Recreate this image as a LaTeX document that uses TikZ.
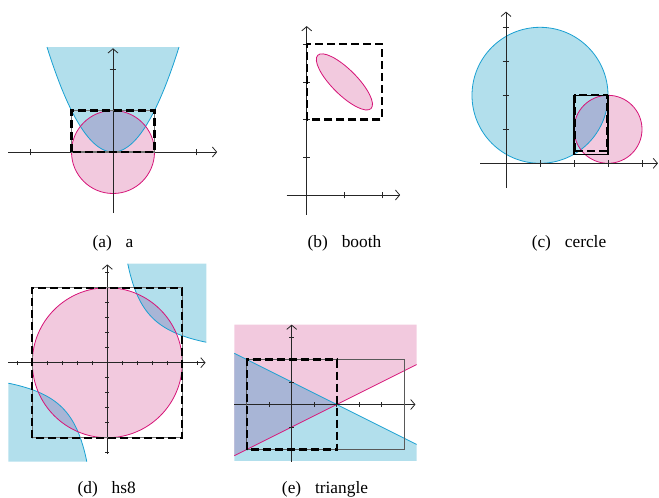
\documentclass[tikz,border=0pt]{standalone}
\usepackage{fontspec}
\setmainfont{Liberation Serif}
\usetikzlibrary{arrows.meta}
\definecolor{cyanfill}{RGB}{178,223,236}
\definecolor{pinkfill}{RGB}{242,201,222}
\definecolor{overfill}{RGB}{168,181,214}
\definecolor{cyanline}{RGB}{25,160,210}
\definecolor{pinkline}{RGB}{214,20,120}
\tikzset{
 axisline/.style={line width=0.6pt, black!85},
 axisarrow/.style={axisline, -{Straight Barb[length=3.2pt,width=7.5pt]}},
 tickmark/.style={line width=0.6pt, black!85},
 cyanborder/.style={line width=0.6pt, draw=cyanline},
 pinkborder/.style={line width=0.6pt, draw=pinkline},
 dashbox/.style={line width=1.7pt, dash pattern=on 6pt off 3pt, black},
 solidbox/.style={line width=0.8pt, black},
 underbox/.style={line width=0.8pt, black!55},
 graybox/.style={line width=0.9pt, black!65},
 captext/.style={anchor=base, font=\fontsize{13}{15}\selectfont, inner sep=0pt},
}
\begin{document}
\begin{tikzpicture}[x=0.75pt,y=-0.75pt]
\useasboundingbox (0,0) rectangle (659,497);

% ---------- (a) ----------
\begin{scope}[xshift=84.75pt, yshift=-114pt, x=31.125pt, y=31.125pt]
 \fill[cyanfill] plot[domain=-1.5906:1.5906, samples=80] (\x,{\x*\x}) -- cycle;
 \fill[pinkfill] (0,0) circle (1);
 \begin{scope}
  \clip plot[domain=-1.5906:1.5906, samples=80] (\x,{\x*\x}) -- cycle;
  \fill[overfill] (0,0) circle (1);
 \end{scope}
 \draw[cyanborder] plot[domain=-1.5906:1.5906, samples=80] (\x,{\x*\x});
 \draw[pinkborder] (0,0) circle (1);
 \coordinate (axl) at (-2.53,0);
 \coordinate (axr) at (2.51,0);
 \coordinate (ayb) at (0,-1.47);
 \coordinate (ayt) at (0,2.5);
 \draw[axisarrow] (axl) -- (axr);
 \draw[axisarrow] (ayb) -- (ayt);
 \foreach \t in {-2,2} \draw[tickmark] (\t,0) ++(0,-2.6pt) -- ++(0,5.2pt);
 \draw[tickmark] (0,2) ++(-2.6pt,0) -- ++(5.2pt,0);
 \draw[underbox] (-1,0) rectangle (1,1);
 \draw[dashbox] (-1,0) rectangle (1,1);
\end{scope}

% ---------- (b) ----------
\begin{scope}[xshift=230.025pt, yshift=-146.25pt, x=28.275pt, y=28.275pt]
 \filldraw[pinkborder, fill=pinkfill, rotate around={-45:(1,3)}] (1,3) ellipse [x radius=1, y radius=0.3333];
 \coordinate (bxl) at (-0.53,0);
 \coordinate (bxr) at (2.48,0);
 \coordinate (byb) at (0,-0.53);
 \coordinate (byt) at (0,4.48);
 \draw[axisarrow] (bxl) -- (bxr);
 \draw[axisarrow] (byb) -- (byt);
 \foreach \t in {1,2} \draw[tickmark] (\t,0) ++(0,-2.6pt) -- ++(0,5.2pt);
 \foreach \t in {1,2,3,4} \draw[tickmark] (0,\t) ++(-2.6pt,0) -- ++(5.2pt,0);
 \draw[dashbox] (0,2) rectangle (2,4);
\end{scope}

% ---------- (c) ----------
\begin{scope}[xshift=379.5pt, yshift=-122.475pt, x=25.5pt, y=25.5pt]
 \fill[cyanfill] (1,2) circle (2);
 \fill[pinkfill] (3,1) circle (1);
 \begin{scope}
  \clip (1,2) circle (2);
  \fill[overfill] (3,1) circle (1);
 \end{scope}
 \draw[cyanborder] (1,2) circle (2);
 \draw[pinkborder] (3,1) circle (1);
 \coordinate (cxl) at (-0.76,0);
 \coordinate (cxr) at (4.47,0);
 \coordinate (cyb) at (0,-0.73);
 \coordinate (cyt) at (0,4.46);
 \draw[axisarrow] (cxl) -- (cxr);
 \draw[axisarrow] (cyb) -- (cyt);
 \foreach \t in {1,2,3,4} \draw[tickmark] (\t,0) ++(0,-2.6pt) -- ++(0,5.2pt);
 \foreach \t in {1,2,3,4} \draw[tickmark] (0,\t) ++(-2.6pt,0) -- ++(5.2pt,0);
 \draw[solidbox] (2,0.26) rectangle (3,2);
 \draw[dashbox] (2.02,0.37) rectangle (2.98,2);
\end{scope}

% ---------- (d) ----------
\begin{scope}[xshift=80.475pt, yshift=-272.025pt, x=11.25pt, y=11.25pt]
 \fill[cyanfill] plot[domain=1.3636:6.6, samples=60] (\x,{9/\x}) -- (6.6,6.6) -- cycle;
 \fill[cyanfill] plot[domain=-1.3636:-6.6, samples=60] (\x,{9/\x}) -- (-6.6,-6.6) -- cycle;
 \fill[pinkfill] (0,0) circle (5);
 \begin{scope}
  \clip (0,0) circle (5);
  \fill[overfill] plot[domain=1.3636:6.6, samples=60] (\x,{9/\x}) -- (6.6,6.6) -- cycle;
  \fill[overfill] plot[domain=-1.3636:-6.6, samples=60] (\x,{9/\x}) -- (-6.6,-6.6) -- cycle;
 \end{scope}
 \draw[cyanborder] plot[domain=1.3636:6.6, samples=60] (\x,{9/\x});
 \draw[cyanborder] plot[domain=-1.3636:-6.6, samples=60] (\x,{9/\x});
 \draw[pinkborder] (0,0) circle (5);
 \coordinate (dxl) at (-6.6,0);
 \coordinate (dxr) at (6.55,0);
 \coordinate (dyb) at (0,-6.1);
 \coordinate (dyt) at (0,6.55);
 \draw[axisarrow] (dxl) -- (dxr);
 \draw[axisarrow] (dyb) -- (dyt);
 \foreach \t in {-6,-5,-4,-3,-2,-1,1,2,3,4,5,6} {
  \draw[tickmark] (\t,0) ++(0,-1.6pt) -- ++(0,3.2pt);
  \draw[tickmark] (0,\t) ++(-1.6pt,0) -- ++(3.2pt,0);
 }
 \draw[underbox] (-5,-5) rectangle (5,5);
 \draw[dashbox] (-5,-5) rectangle (5,5);
\end{scope}

% ---------- (e) ----------
\begin{scope}[xshift=218.775pt, yshift=-303.375pt, x=16.875pt, y=16.875pt]
 \fill[cyanfill] (-2.55,2.275) -- (5.55,-1.775) -- (5.55,-2.5) -- (-2.55,-2.5) -- cycle;
 \fill[pinkfill] (-2.55,-2.275) -- (5.55,1.775) -- (5.55,3.55) -- (-2.55,3.55) -- cycle;
 \fill[overfill] (-2.55,2.275) -- (2,0) -- (-2.55,-2.275) -- cycle;
 \draw[cyanborder] (-2.55,2.275) -- (5.55,-1.775);
 \draw[pinkborder] (-2.55,-2.275) -- (5.55,1.775);
 \coordinate (exl) at (-2.55,0);
 \coordinate (exr) at (5.5,0);
 \coordinate (eyb) at (0,-2.54);
 \coordinate (eyt) at (0,3.55);
 \draw[axisarrow] (exl) -- (exr);
 \draw[axisarrow] (eyb) -- (eyt);
 \foreach \t in {-2,-1,1,2,3,4,5} \draw[tickmark] (\t,0) ++(0,-2pt) -- ++(0,4pt);
 \foreach \t in {-2,-1,1,2,3} \draw[tickmark] (0,\t) ++(-2pt,0) -- ++(4pt,0);
 \draw[graybox] (-2,-2) rectangle (5,2);
 \draw[dashbox] (-2,-2) rectangle (2,2);
\end{scope}

% ---------- captions ----------
\node[captext] (capa) at (113,247) {(a)\hspace{0.8em}a};
\node[captext] (capb) at (344.5,247) {(b)\hspace{0.8em}booth};
\node[captext] (capc) at (569,247) {(c)\hspace{0.8em}cercle};
\node[captext] (capd) at (106.7,493) {(d)\hspace{0.8em}hs8};
\node[captext] (cape) at (325,493) {(e)\hspace{0.8em}triangle};
\end{tikzpicture}
\end{document}
